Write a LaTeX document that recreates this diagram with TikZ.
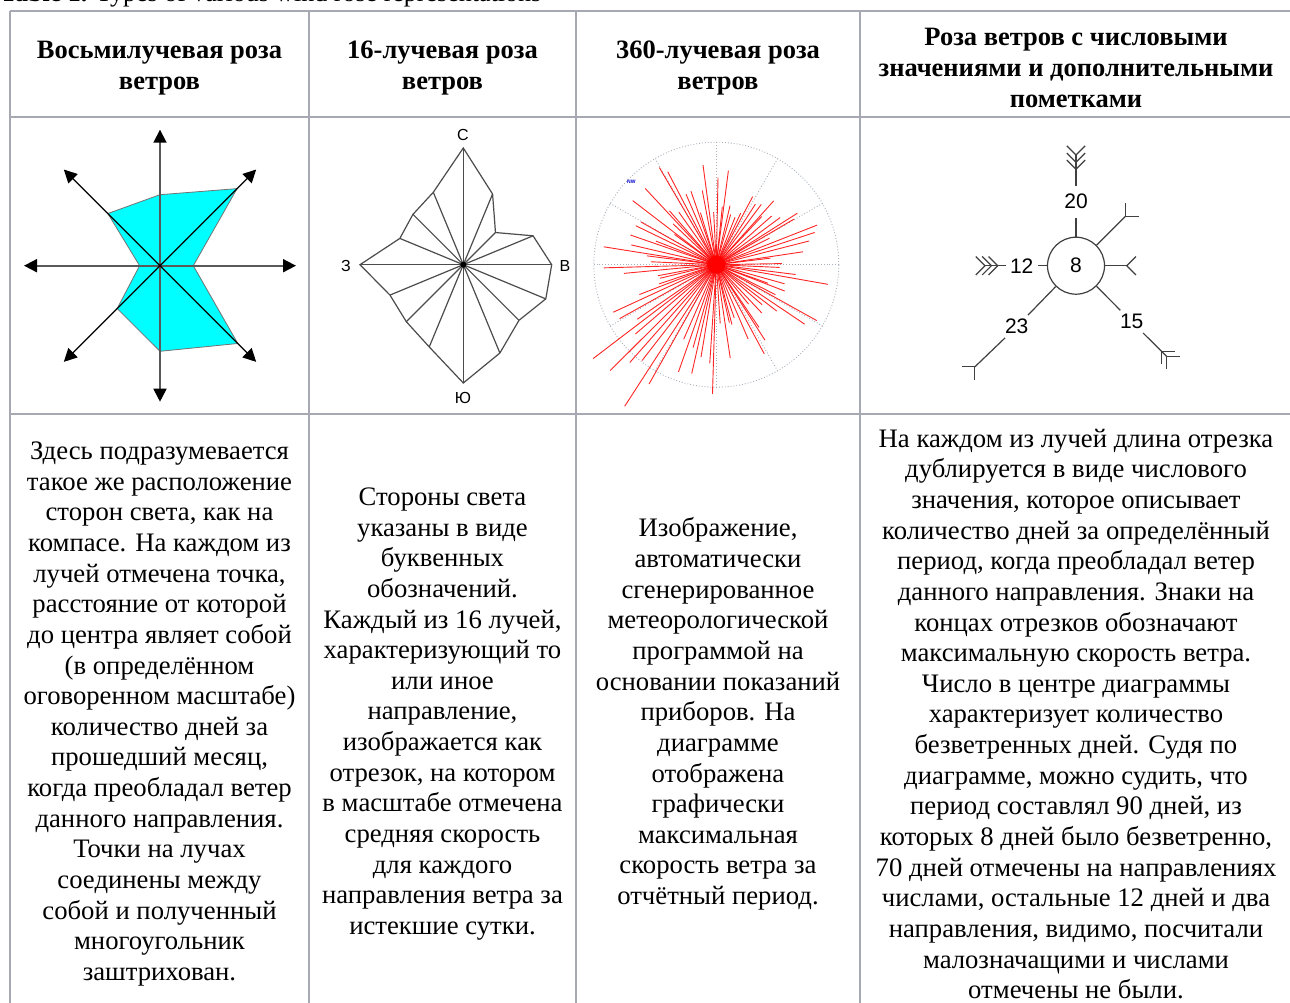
\documentclass[tikz,border=0pt]{standalone}
\usepackage{fontspec}
\setmainfont{Liberation Serif}
\setsansfont{Liberation Sans}
\usetikzlibrary{arrows.meta}
\definecolor{tablegray}{HTML}{A6A9B2}
\definecolor{gridgray}{HTML}{A8B0BA}
\definecolor{rosecyan}{HTML}{00FFFF}

\begin{document}
\begin{tikzpicture}[x=1pt,y=1pt]

\tikzset{
  TableLine/.style = {draw=tablegray, line width=1.6pt},
  HeadText/.style = {align=center, inner sep=0pt,
                     font=\fontsize{26.5}{31}\selectfont\bfseries},
  BodyText/.style = {align=center, inner sep=0pt,
                     font=\fontsize{26.7}{30.65}\selectfont},
  RoseFill/.style = {fill=rosecyan, draw=black!55, line width=0.8pt},
  Axis/.style = {line width=1.8pt, draw=black!65,
                 -{Triangle[length=13pt, width=13pt, color=black]}},
  Diag/.style = {line width=1.2pt, draw=black,
                 -{Triangle[length=13pt, width=13pt, color=black]}},
  Rose16/.style = {line width=1.2pt, draw=black!70},
  Compass/.style = {inner sep=0pt, font=\sffamily\fontsize{16}{18}\selectfont},
  PolarGrid/.style = {draw=gridgray, dotted, line width=0.9pt},
  Ray/.style = {draw=red, line width=0.9pt, opacity=0.85},
  Barb/.style = {draw=black!75, line width=1.2pt},
  Num/.style = {circle, inner sep=1.5pt, font=\sffamily\fontsize{21}{24}\selectfont}
}

\useasboundingbox (0,0) rectangle (1290,-1003);
\fill[white] (0,0) rectangle (1290,-1003);

\node[anchor=base west, inner sep=0pt, font=\fontsize{26}{30}\selectfont]
  (ttl) at (0,-2) {\textbf{Table 1.} Types of various wind rose representations};

% table
\draw[TableLine] (10,-11) -- (1290,-11);
\draw[TableLine] (10,-117) -- (1290,-117);
\draw[TableLine] (10,-414) -- (1290,-414);
\foreach \x in {10,309,576,860}
  \draw[TableLine] (\x,-11) -- (\x,-1010);

\node[HeadText] (h1) at (159.5,-68) {Восьмилучевая роза\\ветров};
\node[HeadText] (h2) at (442.5,-68) {16-лучевая роза\\ветров};
\node[HeadText] (h3) at (718,-68) {360-лучевая роза\\ветров};
\node[HeadText] (h4) at (1076,-68) {Роза ветров с числовыми\\значениями и дополнительными\\пометками};

% eight rays
\coordinate (c1) at (160,-265.7);
\begin{scope}[shift={(c1)}]
  \draw[RoseFill] (90:71) -- (45:109) -- (0:33.3) -- (-45:110) -- (-90:85.6)
    -- (-135:60.6) -- (180:20.4) -- (135:73.8) -- cycle;
  \foreach \a in {0,90,180,270} \draw[Axis] (0,0) -- (\a:136);
  \foreach \a in {45,135,225,315} \draw[Diag] (0,0) -- (\a:136);
\end{scope}

% sixteen rays
\coordinate (c2) at (463.3,-264.7);
\begin{scope}[shift={(c2)}]
  \draw[Rose16] (0:88.4) -- (22.5:75.5) -- (45:45.5) -- (67.5:76.5) -- (90:116.7)
    -- (112.5:78.4) -- (135:71.2) -- (157.5:68.7) -- (180:103.3) -- (202.5:79.4)
    -- (225:80.6) -- (247.5:89) -- (270:118.3) -- (292.5:95.6) -- (315:78.7)
    -- (337.5:89.3) -- cycle;
  \foreach \a/\r in {0/88.4, 22.5/75.5, 45/45.5, 67.5/76.5, 90/116.7, 112.5/78.4,
    135/71.2, 157.5/68.7, 180/103.3, 202.5/79.4, 225/80.6, 247.5/89, 270/118.3,
    292.5/95.6, 315/78.7, 337.5/89.3}
    \draw[Rose16] (0,0) -- (\a:\r);
  \fill (0,0) circle (3);
\end{scope}
\node[Compass] (lc) at (463,-135) {С};
\node[Compass] (lv) at (565,-266) {В};
\node[Compass] (lz) at (346,-266) {З};
\node[Compass] (lyu) at (463,-398) {Ю};

% 360 rays
\coordinate (c3) at (716.3,-264.7);
\begin{scope}[shift={(c3)}]
  \draw[PolarGrid] (0,0) circle (122.5);
  \foreach \a in {0,30,...,330} \draw[PolarGrid] (0,0) -- (\a:122.5);
  \pgfmathsetseed{42}
  \foreach \a in {0,4,...,356}{
    \pgfmathsetmacro\len{(50+65*rnd)*(1+0.55*max(0,cos(\a-235))^8)}
    \pgfmathsetmacro\ang{\a+3*rnd}
    \draw[Ray] (0,0) -- (\ang:\len);
  }
  \fill[red] (0,0) circle (9);
\end{scope}
\node[inner sep=0pt, text=blue!80!black, font=\sffamily\bfseries\fontsize{5}{6}\selectfont]
  (nw) at (631.3,-181.3) {NW};

% barbs
\node[circle, draw=black!75, line width=1.2pt, minimum size=57pt, inner sep=0pt,
  font=\sffamily\fontsize{21}{24}\selectfont] (c8) at (1076,-265.7) {8};
\node[Num] (n20) at (1076,-201.7) {20};
\node[Num] (n12) at (1021.7,-265.7) {12};
\node[Num] (n15) at (1131.7,-321.7) {15};
\node[Num] (n23) at (1016.7,-326.7) {23};
\coordinate (e20) at (1076,-155);
\coordinate (e12) at (985,-265.7);
\coordinate (e15) at (1166.5,-356.2);
\coordinate (e23) at (974.9,-366.8);
\coordinate (ene) at (1125.5,-216.2);
\coordinate (ee) at (1126.7,-265.7);

\draw[Barb] (c8) -- (n20) (n20) -- (e20);
\draw[Barb] (c8) -- (n12) (n12) -- (e12);
\draw[Barb] (c8) -- (n15) (n15) -- (e15);
\draw[Barb] (c8) -- (n23) (n23) -- (e23);
\draw[Barb] (c8) -- (ene);
\draw[Barb] (c8) -- (ee);
\foreach \a/\r in {90/96.4, 90/103.5, 90/110.7, 180/78.3, 180/84.6, 180/91,
  45/70, 0/50.7, -45/121, -45/128, 225/143}
  \draw[Barb] ([shift={(\a:\r)}]c8.center) ++(\a+45:13) -- ++(\a+225:13) -- ++(\a-45:13);

% texts
\node[BodyText] (b1) at (159.5,-714) {Здесь подразумевается\\такое же расположение\\сторон света, как на\\компасе. На каждом из\\лучей отмечена точка,\\расстояние от которой\\до центра являет собой\\(в определённом\\оговоренном масштабе)\\количество дней за\\прошедший месяц,\\когда преобладал ветер\\данного направления.\\Точки на лучах\\соединены между\\собой и полученный\\многоугольник\\заштрихован.};
\node[BodyText] (b2) at (442.5,-714) {Стороны света\\указаны в виде\\буквенных\\обозначений.\\Каждый из 16 лучей,\\характеризующий то\\или иное\\направление,\\изображается как\\отрезок, на котором\\в масштабе отмечена\\средняя скорость\\для каждого\\направления ветра за\\истекшие сутки.};
\node[BodyText] (b3) at (718,-714) {Изображение,\\автоматически\\сгенерированное\\метеорологической\\программой на\\основании показаний\\приборов. На\\диаграмме\\отображена\\графически\\максимальная\\скорость ветра за\\отчётный период.};
\node[BodyText] (b4) at (1076,-714) {На каждом из лучей длина отрезка\\дублируется в виде числового\\значения, которое описывает\\количество дней за определённый\\период, когда преобладал ветер\\данного направления. Знаки на\\концах отрезков обозначают\\максимальную скорость ветра.\\Число в центре диаграммы\\характеризует количество\\безветренных дней. Судя по\\диаграмме, можно судить, что\\период составлял 90 дней, из\\которых 8 дней было безветренно,\\70 дней отмечены на направлениях\\числами, остальные 12 дней и два\\направления, видимо, посчитали\\малозначащими и числами\\отмечены не были.};

\end{tikzpicture}
\end{document}
